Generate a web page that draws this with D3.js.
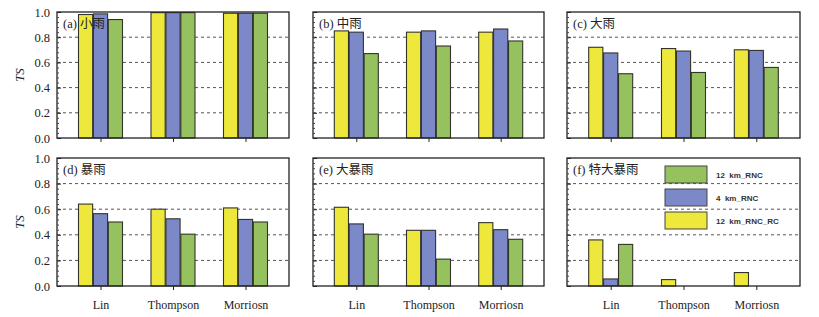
<!DOCTYPE html>
<html>
<head>
<meta charset="utf-8">
<script src="https://cdn.jsdelivr.net/npm/d3@7"></script>
<style>
  body { margin: 0; background: #fff; }
  svg { display: block; }
  .serif { font-family: "Times New Roman", "Liberation Serif", "DejaVu Serif", "Noto Sans CJK SC", serif; }
</style>
</head>
<body>
<div id="container"></div>
<script>
/* DATA */
const schemes = ["Lin", "Thompson", "Morriosn"];
const seriesNames = ["12 km_RNC_RC", "4 km_RNC", "12 km_RNC"];   // bar order: yellow, blue, green
const seriesColors = ["#eee83c", "#7c89c9", "#95c15f"];
const panelTitles = ["(a) 小雨", "(b) 中雨", "(c) 大雨", "(d) 暴雨", "(e) 大暴雨", "(f) 特大暴雨"];
const yTicks = [0, 0.2, 0.4, 0.6, 0.8, 1.0];

// values[panel][scheme] per series
const rcValues  = [[0.98, 0.995, 0.99], [0.85, 0.84, 0.84], [0.72, 0.71, 0.70], [0.64, 0.60, 0.61], [0.615, 0.435, 0.495], [0.36, 0.05, 0.105]];
const km4Values = [[0.985, 0.995, 0.99], [0.84, 0.85, 0.865], [0.675, 0.69, 0.695], [0.565, 0.525, 0.52], [0.485, 0.435, 0.44], [0.055, 0, 0]];
const km12Values = [[0.94, 0.995, 0.99], [0.67, 0.73, 0.77], [0.51, 0.52, 0.56], [0.50, 0.405, 0.50], [0.405, 0.21, 0.365], [0.325, 0, 0]];

/* LAYOUT */
const width = 819, height = 317;
const cols = [[57, 289], [313, 544], [567, 800]];
const rows = [[12, 138], [158, 286]];

const svg = d3.select("#container")
  .append("svg")
  .attr("width", width)
  .attr("height", height);

panelTitles.forEach((title, p) => {
  const [x0, x1] = cols[p % 3];
  const [y0, y1] = rows[Math.floor(p / 3)];
  const vals = [rcValues[p], km4Values[p], km12Values[p]];

  const xScale = d3.scalePoint().domain(schemes).range([x0, x1]).padding(0.6);
  const inner = d3.scaleBand().domain(d3.range(3)).range([-22, 22]).paddingInner(0.05);
  const yScale = d3.scaleLinear().domain([0, 1]).range([y1, y0]);

  const g = svg.append("g");

  // grid
  g.selectAll("line.grid")
    .data([0.2, 0.4, 0.6, 0.8])
    .join("line")
    .attr("x1", x0).attr("x2", x1)
    .attr("y1", d => yScale(d)).attr("y2", d => yScale(d))
    .attr("stroke", "#555")
    .attr("stroke-width", 1)
    .attr("stroke-dasharray", "3,3");

  // legend (panel f)
  if (p === 5) {
    const order = [2, 1, 0];
    order.forEach((s, i) => {
      g.append("rect")
        .attr("x", 665).attr("y", 166 + i * 23)
        .attr("width", 42).attr("height", 17)
        .attr("fill", seriesColors[s])
        .attr("stroke", "#444").attr("stroke-width", 1);
      g.append("text")
        .attr("x", 716).attr("y", 177.5 + i * 23)
        .style("font-family", "'Liberation Sans', Arial, sans-serif")
        .attr("font-size", 8)
        .attr("font-weight", "bold")
        .attr("fill", "#333")
        .style("white-space", "pre")
        .text(seriesNames[s].replace(" ", "  "));
    });
  }

  // bars
  vals.forEach((arr, s) => {
    g.selectAll(null)
      .data(arr.map((v, i) => ({ v, scheme: schemes[i] })).filter(d => d.v > 0))
      .join("rect")
      .attr("x", d => xScale(d.scheme) + inner(s))
      .attr("width", inner.bandwidth())
      .attr("y", d => yScale(d.v))
      .attr("height", d => yScale(0) - yScale(d.v))
      .attr("fill", seriesColors[s])
      .attr("stroke", "#33332a")
      .attr("stroke-width", 1.1);
  });

  // title (on top of bars)
  g.append("text")
    .attr("class", "serif")
    .attr("x", x0 + 6)
    .attr("y", y0 + 16)
    .attr("font-size", 12.5)
    .attr("fill", "#222")
    .text(title);

  // frame
  g.append("rect")
    .attr("x", x0).attr("y", y0)
    .attr("width", x1 - x0).attr("height", y1 - y0)
    .attr("fill", "none")
    .attr("stroke", "#222")
    .attr("stroke-width", 1.3);

  // y axis ticks (inward) with minor ticks
  const yAxis = d3.axisLeft(yScale).tickValues(yTicks).tickSize(-4).tickFormat(d3.format(".1f"));
  const yg = g.append("g").attr("transform", `translate(${x0},0)`).call(yAxis);
  yg.attr("font-family", null).attr("font-size", null);
  yg.select(".domain").remove();
  yg.selectAll(".tick line").attr("stroke", "#222");
  yg.selectAll(".tick text")
    .attr("class", "serif")
    .attr("x", -7)
    .attr("font-size", 12.5)
    .attr("fill", "#222")
    .style("display", p % 3 === 0 ? null : "none");

  g.append("g").attr("transform", `translate(${x0},0)`)
    .call(d3.axisLeft(yScale).tickValues(d3.range(0.04, 1, 0.04)).tickSize(-2).tickFormat(""))
    .call(sel => sel.select(".domain").remove())
    .selectAll(".tick line").attr("stroke", "#444");

  // x axis ticks
  const xg = g.append("g").attr("transform", `translate(0,${y1})`)
    .call(d3.axisBottom(xScale).tickSize(4).tickPadding(10));
  xg.attr("font-family", null).attr("font-size", null);
  xg.select(".domain").remove();
  xg.selectAll(".tick line").attr("stroke", "#222");
  xg.selectAll(".tick text")
    .attr("class", "serif")
    .attr("font-size", 12)
    .attr("fill", "#222")
    .style("display", Math.floor(p / 3) === 1 ? null : "none");

  // y label
  if (p % 3 === 0) {
    g.append("text")
      .attr("class", "serif")
      .attr("transform", `translate(24,${(y0 + y1) / 2}) rotate(-90)`)
      .attr("text-anchor", "middle")
      .attr("font-style", "italic")
      .attr("font-size", 13)
      .attr("fill", "#222")
      .text("TS");
  }
});
</script>
</body>
</html>
